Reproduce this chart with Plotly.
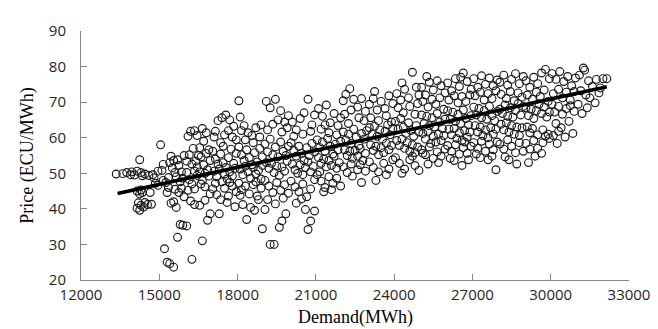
import plotly.graph_objects as go

# ---- Data (estimated) ----
demand_a = [13350, 13600, 13750, 13900, 13950,
            14050, 14150, 14250, 14300, 14350, 14450, 14600, 14750, 14150, 14250, 14300, 14350, 14200, 14300, 14150, 14250, 14400, 14450, 14550, 14700, 14850, 14950, 14650, 14800, 14950,
            15050, 15100, 15150, 15250, 15300, 15350, 15400, 15450, 15500, 15550, 15600, 15650, 15700, 15750, 15800, 15850, 15900, 15950, 15450, 15550, 15650, 15750, 15850, 15950, 15200, 15300, 15400, 15550, 15700, 15800, 15900, 15350, 15600, 15150,
            16050, 16100, 16200, 16350, 16450, 16300, 16150, 16250, 16400, 16500, 16600, 16700, 16050, 16150, 16250, 16350, 16450, 16550, 16650, 16750, 16850, 16550, 16700, 16800, 16900, 16200, 16350, 16550, 16750, 16950, 16250, 16650, 16850, 16950, 16650, 16800, 16900, 16100, 16450, 16600, 16950, 16350, 16750, 16050]
price_a = [49.8, 49.9, 50.2, 49.6, 50.4,
           49.5, 50.6, 53.8, 50.2, 49.3, 49.8, 49.4, 49.6, 45.0, 44.2, 45.3, 44.6, 41.7, 41.0, 40.2, 39.6, 40.5, 41.8, 41.2, 41.3, 47.2, 46.6, 44.6, 48.7, 50.6,
           58.0, 50.8, 48.0, 47.4, 44.6, 48.8, 53.0, 54.8, 51.5, 53.6, 50.2, 49.0, 53.8, 52.2, 47.6, 50.4, 48.6, 55.0, 41.6, 42.0, 40.4, 44.6, 45.8, 43.4, 28.8, 25.0, 24.6, 23.6, 32.0, 35.6, 35.4, 46.0, 45.5, 52.5,
           35.2, 60.4, 61.8, 62.0, 60.6, 57.0, 55.2, 52.6, 53.4, 55.0, 54.6, 52.4, 50.2, 48.2, 47.0, 45.6, 49.4, 50.4, 48.0, 46.2, 51.0, 57.2, 59.0, 61.4, 56.6, 42.2, 41.2, 41.0, 42.4, 44.2, 25.8, 31.0, 36.8, 38.6, 62.6, 55.6, 49.2, 45.2, 51.8, 47.0, 53.6, 50.6, 50.0, 53.4]

demand_b = [17100, 17250, 17400, 17550, 17700, 17850, 17150, 17350, 17500, 17650, 17800, 17950, 17050, 17150, 17250, 17350, 17450, 17550, 17650, 17750, 17850, 17950, 17100, 17200, 17300, 17400, 17500, 17600, 17700, 17800, 17900, 17050, 17200, 17350, 17500, 17650, 17800, 17950, 17300, 17600, 17900, 17150, 17700, 17450,
            18050, 18150, 18250, 18400, 18550, 18700, 18850, 18100, 18300, 18600, 18900, 18050, 18150, 18250, 18350, 18450, 18550, 18650, 18750, 18850, 18950, 18100, 18200, 18300, 18400, 18500, 18600, 18700, 18800, 18900, 18950, 18050, 18150, 18300, 18450, 18600, 18750, 18900, 18200, 18500, 18800, 18350, 18650, 18950, 18100, 18700,
            19100, 19250, 19450, 19550, 19650, 19800, 19950, 19150, 19350, 19700, 19900, 19050, 19150, 19250, 19350, 19450, 19550, 19650, 19750, 19850, 19950, 19100, 19200, 19300, 19400, 19500, 19600, 19700, 19800, 19900, 19050, 19200, 19350, 19500, 19650, 19800, 19950, 19150, 19450, 19750, 19250, 19400, 19600, 19850, 19700, 19050]
price_b = [60.2, 64.8, 65.6, 66.4, 65.0, 63.2, 61.8, 58.6, 60.8, 62.0, 60.2, 59.4, 56.2, 54.0, 52.6, 55.4, 53.0, 51.6, 54.4, 56.8, 52.8, 55.6, 50.6, 49.0, 51.2, 47.6, 49.8, 48.4, 50.4, 49.2, 51.4, 45.6, 44.0, 42.6, 45.8, 43.6, 46.4, 44.8, 38.6, 41.8, 40.6, 47.2, 47.4, 57.6,
           70.4, 62.0, 63.4, 61.4, 60.6, 62.8, 60.2, 65.8, 59.4, 58.6, 63.6, 57.4, 55.2, 53.6, 56.6, 54.4, 52.4, 55.8, 53.2, 57.0, 54.6, 51.2, 49.6, 52.0, 50.4, 48.6, 51.6, 49.8, 50.8, 48.4, 52.2, 47.2, 45.4, 46.4, 44.2, 46.8, 43.6, 45.8, 41.2, 40.4, 42.6, 37.0, 39.6, 34.4, 43.8, 47.6,
           70.2, 68.4, 70.8, 65.0, 67.6, 64.4, 66.2, 62.2, 63.8, 61.6, 62.8, 58.2, 56.0, 59.6, 55.2, 57.4, 54.6, 58.8, 56.2, 55.0, 57.6, 53.0, 51.4, 52.8, 50.2, 52.0, 49.4, 51.8, 50.6, 53.4, 48.0, 46.4, 44.6, 47.4, 45.2, 46.8, 44.4, 42.6, 41.4, 43.0, 30.0, 30.0, 34.8, 38.6, 36.6, 39.8]

demand_c = [20100, 20250, 20400, 20550, 20700, 20850, 20950, 20150, 20500, 20800, 20050, 20150, 20250, 20350, 20450, 20550, 20650, 20750, 20850, 20950, 20100, 20200, 20300, 20400, 20500, 20600, 20700, 20800, 20900, 20050, 20200, 20350, 20500, 20650, 20800, 20950, 20250, 20600, 20700, 20800, 20950, 20450,
            21100, 21250, 21400, 21550, 21700, 21850, 21950, 21200, 21500, 21800, 21350, 21050, 21150, 21250, 21350, 21450, 21550, 21650, 21750, 21850, 21950, 21100, 21200, 21300, 21400, 21500, 21600, 21700, 21800, 21900, 21050, 21200, 21350, 21500, 21650, 21800, 21950, 21300, 21600, 21150,
            22050, 22150, 22300, 22450, 22600, 22750, 22900, 22100, 22350, 22650, 22850, 22250, 22050, 22150, 22250, 22350, 22450, 22550, 22650, 22750, 22850, 22950, 22100, 22200, 22300, 22400, 22500, 22600, 22700, 22800, 22900, 22050, 22200, 22400, 22600, 22750, 22900, 22350, 22700]
price_c = [64.4, 62.2, 65.4, 67.0, 70.8, 63.6, 66.4, 60.4, 61.0, 61.8, 58.6, 56.4, 54.8, 57.6, 55.6, 53.6, 57.2, 55.0, 58.4, 56.0, 52.6, 51.0, 50.0, 52.4, 49.6, 51.6, 53.2, 50.4, 52.0, 47.8, 46.2, 44.8, 47.0, 43.4, 45.6, 48.2, 41.6, 39.8, 34.2, 36.6, 39.4, 42.8,
           68.2, 66.0, 69.2, 64.2, 66.8, 63.4, 65.6, 62.4, 61.4, 60.8, 63.6, 59.4, 57.2, 58.8, 56.2, 59.8, 57.6, 55.4, 58.2, 56.6, 59.0, 54.4, 52.8, 54.0, 51.8, 53.6, 52.2, 54.8, 51.4, 53.0, 49.6, 47.8, 46.0, 49.0, 47.2, 48.6, 46.4, 44.8, 45.4, 50.4,
           70.4, 72.2, 73.8, 70.8, 68.6, 71.0, 67.4, 66.6, 67.8, 65.6, 64.8, 64.0, 61.6, 59.4, 61.0, 58.4, 62.4, 60.2, 57.8, 61.2, 59.6, 62.0, 56.6, 55.0, 56.2, 54.2, 56.4, 54.8, 57.0, 53.6, 55.6, 51.8, 50.2, 49.2, 51.0, 47.4, 50.6, 52.6, 52.4]

demand_d = [23050, 23200, 23350, 23500, 23650, 23800, 23950, 23100, 23400, 23700, 23900, 23250, 23050, 23150, 23250, 23350, 23450, 23550, 23650, 23750, 23850, 23950, 23100, 23200, 23300, 23400, 23500, 23600, 23700, 23800, 23900, 23050, 23200, 23400, 23600, 23800, 23950, 23300, 23700,
            24100, 24250, 24400, 24550, 24700, 24850, 24950, 24150, 24350, 24600, 24800, 24300, 24900, 24050, 24150, 24250, 24350, 24450, 24550, 24650, 24750, 24850, 24950, 24100, 24200, 24300, 24400, 24500, 24600, 24700, 24800, 24900, 24050, 24200, 24400, 24600, 24800, 24950, 24300, 24700,
            25050, 25200, 25350, 25500, 25650, 25800, 25950, 25100, 25300, 25450, 25600, 25750, 25900, 25250, 25050, 25150, 25250, 25350, 25450, 25550, 25650, 25750, 25850, 25950, 25100, 25200, 25300, 25400, 25500, 25600, 25700, 25800, 25900, 25050, 25200, 25350, 25500, 25650, 25800, 25950, 25300, 25700, 25100]
price_d = [69.4, 71.0, 67.8, 70.2, 68.2, 71.8, 69.6, 65.6, 64.8, 66.2, 64.4, 73.0, 62.8, 61.0, 63.2, 60.4, 62.2, 59.6, 61.8, 63.6, 60.8, 62.6, 58.0, 56.4, 57.6, 55.2, 57.2, 55.8, 58.4, 56.6, 57.8, 53.2, 51.6, 50.4, 52.8, 51.2, 53.8, 48.0, 49.6,
           72.4, 70.6, 73.6, 71.2, 78.4, 74.2, 72.0, 68.4, 67.0, 68.8, 66.6, 75.4, 69.6, 64.6, 62.4, 65.4, 63.0, 61.2, 64.2, 62.0, 60.4, 63.4, 61.6, 59.2, 57.8, 59.6, 57.0, 58.6, 56.2, 58.0, 55.8, 57.4, 54.4, 52.8, 51.2, 53.8, 52.2, 50.8, 50.0, 54.8,
           74.2, 72.0, 75.6, 73.4, 76.0, 74.6, 72.6, 70.2, 68.6, 70.8, 69.4, 71.2, 68.0, 77.2, 66.4, 64.0, 66.0, 63.4, 65.6, 63.0, 66.8, 64.4, 62.6, 65.2, 61.2, 59.6, 61.8, 58.4, 60.4, 58.8, 61.0, 59.2, 60.6, 56.6, 55.2, 57.4, 54.2, 56.0, 54.8, 56.8, 52.6, 53.0, 55.6]

demand_e = [26050, 26200, 26350, 26500, 26650, 26800, 26950, 26100, 26300, 26450, 26600, 26750, 26900, 26550, 26050, 26150, 26250, 26350, 26450, 26550, 26650, 26750, 26850, 26950, 26100, 26200, 26300, 26400, 26500, 26600, 26700, 26800, 26900, 26050, 26200, 26350, 26500, 26650, 26800, 26950, 26300, 26600, 26850, 26150, 26700,
            27050, 27200, 27350, 27500, 27650, 27800, 27950, 27100, 27300, 27450, 27600, 27750, 27900, 27050, 27150, 27250, 27350, 27450, 27550, 27650, 27750, 27850, 27950, 27100, 27200, 27300, 27400, 27500, 27600, 27700, 27800, 27900, 27050, 27200, 27350, 27500, 27650, 27800, 27950, 27300, 27600, 27900, 27150, 27750,
            28050, 28200, 28350, 28500, 28650, 28800, 28950, 28100, 28300, 28450, 28600, 28750, 28900, 28050, 28150, 28250, 28350, 28450, 28550, 28650, 28750, 28850, 28950, 28100, 28200, 28300, 28400, 28500, 28600, 28700, 28800, 28900, 28050, 28200, 28350, 28500, 28650, 28800, 28950, 28400, 28700, 28250]
price_e = [75.4, 73.2, 76.6, 74.4, 78.2, 75.8, 73.6, 70.6, 71.8, 69.8, 71.6, 70.2, 72.0, 77.0, 67.6, 65.2, 67.2, 64.6, 66.6, 64.0, 67.8, 65.4, 63.6, 66.2, 62.4, 60.8, 62.6, 59.8, 61.4, 59.2, 62.0, 60.2, 61.6, 57.8, 56.2, 58.0, 55.4, 57.2, 55.6, 57.6, 53.6, 52.2, 53.8, 54.2, 58.8,
           76.6, 74.2, 77.4, 75.0, 76.8, 74.6, 76.2, 71.8, 72.8, 70.6, 72.4, 71.0, 73.2, 68.6, 66.4, 68.2, 65.6, 67.6, 65.2, 68.8, 66.2, 64.8, 67.4, 63.4, 61.6, 63.0, 60.6, 62.2, 60.0, 62.8, 61.0, 62.4, 58.6, 57.0, 59.0, 56.2, 58.2, 56.6, 58.8, 54.4, 53.8, 51.0, 55.4, 54.8,
           75.6, 77.6, 74.8, 76.4, 78.0, 75.2, 77.2, 72.2, 71.0, 73.0, 70.4, 72.6, 71.4, 68.0, 66.8, 69.2, 66.0, 68.4, 65.8, 67.6, 69.6, 66.4, 68.8, 63.8, 62.2, 64.2, 61.6, 63.4, 61.0, 63.0, 60.6, 62.8, 58.2, 56.8, 59.4, 57.6, 55.8, 58.6, 56.2, 53.8, 52.6, 54.6]

demand_f = [29050, 29200, 29350, 29500, 29650, 29800, 29950, 29100, 29300, 29450, 29600, 29750, 29900, 29050, 29150, 29250, 29350, 29450, 29550, 29650, 29750, 29850, 29950, 29100, 29200, 29300, 29500, 29700, 29900, 29050, 29200, 29350, 29500, 29650, 29800, 29950, 29400, 29150, 29700,
            30050, 30200, 30350, 30500, 30650, 30800, 30950, 30100, 30300, 30450, 30600, 30750, 30900, 30050, 30150, 30300, 30450, 30600, 30750, 30900, 30200, 30400, 30700, 30100, 30300, 30550, 30250, 30850,
            31100, 31250, 31300, 31450, 31600, 31750, 31150, 31350, 31500, 31700, 31050, 31850, 31200, 31400, 32000, 32150, 31900]
price_f = [76.0, 74.2, 77.0, 75.2, 78.2, 79.2, 76.6, 72.0, 70.8, 72.8, 71.6, 73.4, 70.2, 68.4, 66.2, 68.0, 65.4, 67.6, 69.4, 66.8, 68.6, 65.8, 67.2, 63.0, 61.4, 62.6, 60.8, 62.2, 61.0, 58.4, 56.8, 59.2, 57.0, 55.6, 60.4, 59.8, 54.8, 53.0, 58.6,
           78.0, 76.4, 78.6, 75.8, 77.2, 74.6, 76.8, 72.4, 73.6, 71.2, 72.8, 70.6, 73.0, 69.4, 67.2, 68.8, 66.6, 68.2, 69.0, 67.4, 64.0, 62.8, 64.6, 60.6, 61.8, 60.2, 58.4, 61.2,
           77.6, 79.6, 79.0, 76.0, 74.4, 76.4, 73.2, 72.0, 71.2, 69.8, 69.4, 72.6, 66.8, 68.4, 76.6, 76.6, 74.0]

# linear trend line end points
trend_demand = [13400, 32150]
trend_price = [44.3, 74.3]

x_ticks = [12000, 15000, 18000, 21000, 24000, 27000, 30000, 33000]
y_ticks = [20, 30, 40, 50, 60, 70, 80, 90]

demand = demand_a + demand_b + demand_c + demand_d + demand_e + demand_f
price = price_a + price_b + price_c + price_d + price_e + price_f

fig = go.Figure()
fig.add_trace(go.Scatter(
    x=demand, y=price, mode="markers",
    marker=dict(symbol="circle-open", size=7.8, color="#1a1a1a", line=dict(width=1.15, color="#1a1a1a")),
    showlegend=False, hoverinfo="skip"))
fig.add_trace(go.Scatter(
    x=trend_demand, y=trend_price, mode="lines",
    line=dict(color="black", width=3.6), showlegend=False, hoverinfo="skip"))

axis_common = dict(
    showgrid=False, zeroline=False, showline=True, linecolor="#868686", linewidth=1,
    ticks="inside", ticklen=6, tickcolor="#868686", tickwidth=1,
    tickfont=dict(family="Open Sans, Noto Sans, sans-serif", size=15, color="#262626"),
    mirror=False,
)

serif = dict(family="Liberation Serif, Times New Roman, serif", size=18, color="#000")

fig.update_layout(
    width=658, height=329,
    margin=dict(l=73, r=37, t=16, b=57),
    paper_bgcolor="white", plot_bgcolor="white",
    xaxis=dict(axis_common, range=[12000, 33000], tickvals=x_ticks,
               ticktext=[str(v) for v in x_ticks], ticklabelstandoff=1),
    yaxis=dict(axis_common, range=[20, 90], tickvals=y_ticks,
               ticktext=[str(v) for v in y_ticks], ticklabelstandoff=11,
               title=dict(text="Price (ECU/MWh)", standoff=10, font=serif)),
    annotations=[dict(text="Demand(MWh)", xref="paper", yref="paper",
                      x=0.5, y=-0.15, xanchor="center", yanchor="middle",
                      showarrow=False, font=serif)],
)

fig.write_html("out.html")
